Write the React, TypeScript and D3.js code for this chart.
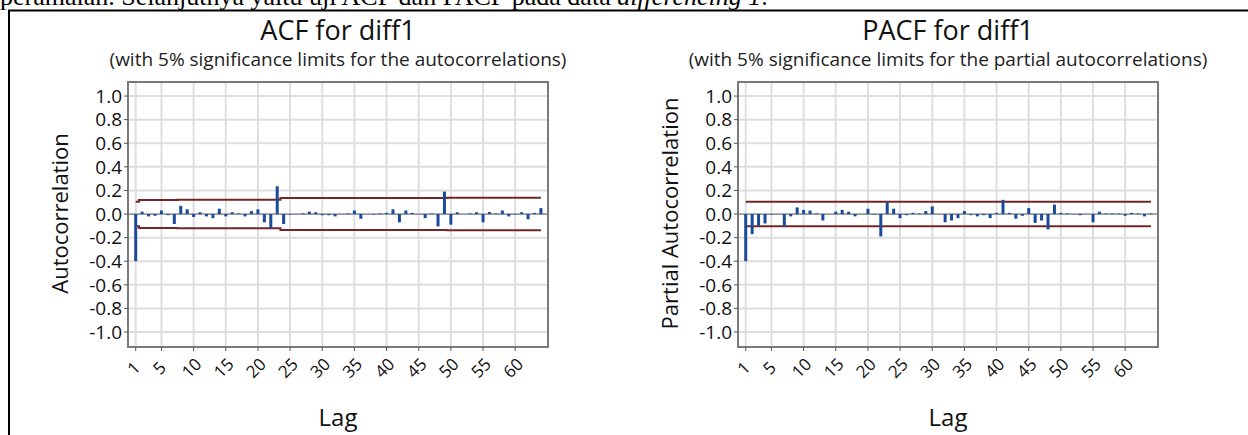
import { useEffect, useRef } from "react";
import * as d3 from "d3";

const W = 1248;
const H = 435;

// lags shown on both charts
const lags = d3.range(1, 65);
const xTicks = [1, 5, 10, 15, 20, 25, 30, 35, 40, 45, 50, 55, 60];
const yTicks = [1.0, 0.8, 0.6, 0.4, 0.2, 0.0, -0.2, -0.4, -0.6, -0.8, -1.0];

const acfValues = [
  -0.4, 0.02, -0.02, -0.015, 0.03, -0.01, -0.085, 0.07, 0.04, -0.025,
  0.015, -0.02, -0.035, 0.045, -0.02, 0.015, 0.005, -0.02, 0.025, 0.04,
  -0.07, -0.12, 0.235, -0.085, -0.005, 0.0, 0.005, 0.02, 0.015, -0.01,
  -0.01, -0.02, 0.0, 0.005, 0.03, -0.04, 0.0, -0.005, 0.005, 0.01,
  0.04, -0.07, 0.03, 0.01, 0.0, -0.035, 0.005, -0.105, 0.19, -0.09,
  0.015, 0.0, 0.005, 0.015, -0.07, 0.017, 0.005, 0.03, -0.02, -0.005,
  0.015, -0.045, 0.01, 0.05,
];

// upper 5% limit per lag (lower one is the negative)
const acfLimit = [
  0.104, 0.119, 0.119, 0.119, 0.119, 0.119, 0.119, 0.12, 0.12, 0.12,
  0.12, 0.12, 0.12, 0.12, 0.12, 0.12, 0.12, 0.121, 0.121, 0.121,
  0.121, 0.121, 0.121, 0.135, 0.135, 0.135, 0.135, 0.135, 0.135, 0.135,
  0.135, 0.135, 0.135, 0.135, 0.135, 0.135, 0.135, 0.135, 0.135, 0.135,
  0.135, 0.135, 0.135, 0.135, 0.135, 0.135, 0.135, 0.135, 0.136, 0.137,
  0.137, 0.137, 0.137, 0.137, 0.137, 0.137, 0.137, 0.137, 0.137, 0.137,
  0.137, 0.137, 0.137, 0.137,
];

const pacfValues = [
  -0.4, -0.17, -0.1, -0.08, -0.005, 0.0, -0.11, -0.02, 0.056, 0.035,
  0.03, 0.005, -0.055, 0.0, 0.02, 0.035, 0.02, -0.02, 0.0, 0.045,
  -0.005, -0.19, 0.1, 0.045, -0.035, -0.01, 0.01, 0.005, 0.025, 0.065,
  0.0, -0.07, -0.055, -0.035, 0.025, -0.01, -0.02, -0.01, -0.035, 0.01,
  0.12, 0.01, -0.04, -0.015, 0.05, -0.075, -0.055, -0.13, 0.08, 0.01,
  0.005, 0.0, -0.01, 0.0, -0.07, 0.02, 0.005, 0.005, 0.005, -0.015,
  0.01, 0.005, -0.02, 0.005,
];

const pacfLimit = lags.map(() => 0.104);

const FONT = "'Open Sans', 'Noto Sans', sans-serif";

function drawPanel(svg, opts) {
  const { x0, title, subtitle, yLabel, values, limit } = opts;
  const top = 82;
  const bottom = 347;
  const width = 420;

  const x = d3.scaleLinear().domain([-0.2, 65.1]).range([x0, x0 + width]);
  const y = d3.scaleLinear().domain([-1.127, 1.119]).range([bottom, top]);

  const g = svg.append("g");
  const cx = x0 + width / 2;

  g.append("text")
    .attr("x", cx)
    .attr("y", 40)
    .attr("text-anchor", "middle")
    .style("font-family", FONT)
    .style("font-size", "27px")
    .attr("fill", "#111")
    .text(title);

  g.append("text")
    .attr("x", cx)
    .attr("y", 66)
    .attr("text-anchor", "middle")
    .style("font-family", FONT)
    .style("font-size", "19px")
    .attr("fill", "#222")
    .text(subtitle);

  // grid
  g.selectAll(".hgrid")
    .data(yTicks)
    .enter()
    .append("line")
    .attr("x1", x0)
    .attr("x2", x0 + width)
    .attr("y1", (d) => y(d))
    .attr("y2", (d) => y(d))
    .attr("stroke", "#dedede")
    .attr("stroke-width", 2);

  g.selectAll(".vgrid")
    .data(xTicks)
    .enter()
    .append("line")
    .attr("x1", (d) => x(d))
    .attr("x2", (d) => x(d))
    .attr("y1", top)
    .attr("y2", bottom)
    .attr("stroke", "#dedede")
    .attr("stroke-width", 2);

  // zero reference
  g.append("line")
    .attr("x1", x0)
    .attr("x2", x0 + width)
    .attr("y1", y(0))
    .attr("y2", y(0))
    .attr("stroke", "#7d8290")
    .attr("stroke-width", 1.2);

  // significance limits
  const lim = d3
    .line()
    .x((d, i) => x(lags[i]))
    .y((d) => y(d))
    .curve(d3.curveStep);

  g.append("path")
    .attr("d", lim(limit))
    .attr("fill", "none")
    .attr("stroke", "#732626")
    .attr("stroke-width", 2);

  g.append("path")
    .attr("d", lim(limit.map((v) => -v)))
    .attr("fill", "none")
    .attr("stroke", "#732626")
    .attr("stroke-width", 2);

  // bars
  g.selectAll(".bar")
    .data(values)
    .enter()
    .append("rect")
    .attr("x", (d, i) => x(lags[i]) - 1.5)
    .attr("width", 3)
    .attr("y", (d) => Math.min(y(d), y(0)))
    .attr("height", (d) => Math.abs(y(d) - y(0)))
    .attr("fill", "#1b4b98");

  // frame
  g.append("rect")
    .attr("x", x0)
    .attr("y", top)
    .attr("width", width)
    .attr("height", bottom - top)
    .attr("fill", "none")
    .attr("stroke", "#7a7a7a")
    .attr("stroke-width", 2);

  // y ticks + labels
  g.selectAll(".ytick")
    .data(yTicks)
    .enter()
    .append("line")
    .attr("x1", x0 - 4)
    .attr("x2", x0)
    .attr("y1", (d) => y(d))
    .attr("y2", (d) => y(d))
    .attr("stroke", "#555");

  g.selectAll(".ylab")
    .data(yTicks)
    .enter()
    .append("text")
    .attr("x", x0 - 6)
    .attr("y", (d) => y(d))
    .attr("dy", "0.36em")
    .attr("text-anchor", "end")
    .style("font-family", FONT)
    .style("font-size", "19px")
    .attr("fill", "#111")
    .text((d) => d3.format(".1f")(d).replace("−", "-"));

  // x ticks + rotated labels
  g.selectAll(".xtick")
    .data(xTicks)
    .enter()
    .append("line")
    .attr("x1", (d) => x(d))
    .attr("x2", (d) => x(d))
    .attr("y1", bottom)
    .attr("y2", bottom + 4)
    .attr("stroke", "#555");

  g.selectAll(".xlab")
    .data(xTicks)
    .enter()
    .append("text")
    .attr("transform", (d) => `translate(${x(d) - 2},${368}) rotate(-45)`)
    .attr("dy", "0.35em")
    .attr("text-anchor", "middle")
    .style("font-family", FONT)
    .style("font-size", "17px")
    .attr("fill", "#111")
    .text((d) => d);

  g.append("text")
    .attr("x", cx)
    .attr("y", 426)
    .attr("text-anchor", "middle")
    .style("font-family", FONT)
    .style("font-size", "24px")
    .attr("fill", "#111")
    .text("Lag");

  g.append("text")
    .attr("transform", `translate(${x0 - 68},${(top + bottom) / 2 - 1}) rotate(-90)`)
    .attr("dy", "0.35em")
    .attr("text-anchor", "middle")
    .style("font-family", FONT)
    .style("font-size", "22px")
    .attr("fill", "#111")
    .text(yLabel);
}

export default function App() {
  const svgRef = useRef(null);

  useEffect(() => {
    const svg = d3.select(svgRef.current);
    svg.selectAll("*").remove();

    svg.append("rect").attr("width", W).attr("height", H).attr("fill", "#fff");

    // cropped line of the document above the figure
    const doc = svg
      .append("text")
      .attr("x", 0)
      .attr("y", 5)
      .style("font-family", "'Liberation Serif', 'Times New Roman', serif")
      .style("font-size", "26px")
      .attr("fill", "#000");
    doc.append("tspan").text("peramalan. Selanjutnya yaitu uji ACF dan PACF pada data ");
    doc.append("tspan").style("font-style", "italic").text("differencing 1");
    doc.append("tspan").text(".");

    // table cell border
    svg.append("line").attr("x1", 8).attr("x2", W).attr("y1", 10.5).attr("y2", 10.5)
      .attr("stroke", "#000").attr("stroke-width", 2);
    svg.append("line").attr("x1", 9).attr("x2", 9).attr("y1", 10).attr("y2", H)
      .attr("stroke", "#000").attr("stroke-width", 2);

    drawPanel(svg, {
      x0: 128,
      title: "ACF for diff1",
      subtitle: "(with 5% significance limits for the autocorrelations)",
      yLabel: "Autocorrelation",
      values: acfValues,
      limit: acfLimit,
    });

    drawPanel(svg, {
      x0: 738,
      title: "PACF for diff1",
      subtitle: "(with 5% significance limits for the partial autocorrelations)",
      yLabel: "Partial Autocorrelation",
      values: pacfValues,
      limit: pacfLimit,
    });
  }, []);

  return (
    <svg
      ref={svgRef}
      width={W}
      height={H}
      style={{ position: "absolute", left: 0, top: 0, display: "block" }}
    ></svg>
  );
}
